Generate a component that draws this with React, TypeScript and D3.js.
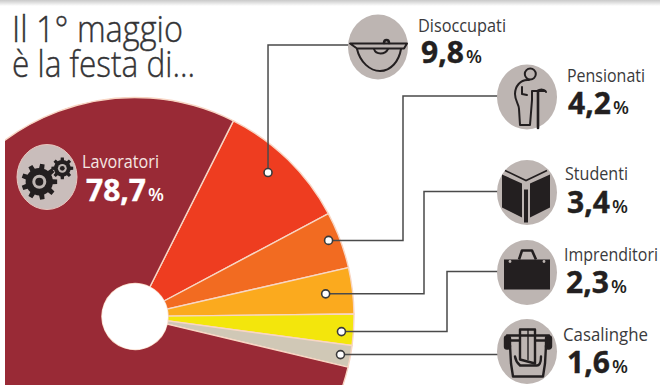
import React from "react";
import * as d3 from "d3";

// Survey shares, in the order the slices run clockwise
const categories = ["Disoccupati", "Pensionati", "Studenti", "Imprenditori", "Casalinghe", "Lavoratori"];
const shares = [9.8, 4.2, 3.4, 2.3, 1.6, 78.7];
const sliceColors = ["#ee3d20", "#f26b21", "#fbaa1e", "#f3e60c", "#d0c8b6", "#992a36"];
const titleLines = ["Il 1° maggio", "è la festa di..."];

const WIDTH = 660;
const HEIGHT = 385;
const CX = 135;
const CY = 316.5;
const OUTER = 219;
const INNER = 33;
const START_DEG = 26.7;

// Placement of the callout blocks, one per category
const iconX = [378, 527, 527, 527, 527, 47];
const iconY = [47, 97, 192.5, 272.5, 351.5, 177];
const nameX = [418, 567, 565, 564, 563, 82];
const nameY = [32, 82, 180, 261, 341, 168];
const nameW = [88, 78, 63, 94, 85, 77];
const valueX = [421, 568, 567, 566, 567, 86];
const valueY = [63, 114, 213, 293, 373, 201];

// Dot anchors inside each slice: distance from the centre and nudge off the mid-angle
const dotRadius = [196, 208, 192, 207, 209];
const dotNudge = [-1.6, -1, 0, 0.7, 0];
// Elbow column of each leader; null means the leader runs straight or upward only
const elbowX = [null, 403, 424, 447, null];

const INK = "#231f20";
const DISC = "#bdb5b2";

const pie = d3
  .pie<number>()
  .sort(null)
  .startAngle((START_DEG * Math.PI) / 180)
  .endAngle((START_DEG * Math.PI) / 180 + 2 * Math.PI);
const arcs = pie(shares);
const arcPath = d3.arc<d3.PieArcDatum<number>>().innerRadius(INNER).outerRadius(OUTER);

const polar = (deg: number, r: number): [number, number] => [
  CX + r * Math.sin((deg * Math.PI) / 180),
  CY - r * Math.cos((deg * Math.PI) / 180),
];

const dots = arcs.slice(0, 5).map((a, i) => {
  const mid = (((a.startAngle + a.endAngle) / 2) * 180) / Math.PI;
  return polar(mid + dotNudge[i], dotRadius[i]);
});

const leaderPath = d3.line();
const leaders = dots.map(([x, y], i) => {
  const tx = iconX[i];
  const ty = iconY[i];
  if (i === 0) return leaderPath([[x, y], [x, ty - 2], [tx, ty - 2]]);
  const ex = elbowX[i];
  if (ex === null) return leaderPath([[x, y], [tx, y]]);
  return leaderPath([[x, y], [ex, y], [ex, ty - 1], [tx, ty - 1]]);
});

const formatShare = (v: number) => d3.format(".1f")(v).replace(".", ",");

// Toothed wheel outline for the Lavoratori badge
function gearPath(cx: number, cy: number, r: number, teeth: number) {
  const pts: [number, number][] = [];
  const step = (Math.PI * 2) / teeth;
  for (let t = 0; t < teeth; t++) {
    const a = t * step;
    const ro = r;
    const ri = r * 0.76;
    [
      [-0.5, ri],
      [-0.27, ri],
      [-0.18, ro],
      [0.18, ro],
      [0.27, ri],
    ].forEach(([f, rad]) => {
      const ang = a + f * step;
      pts.push([cx + rad * Math.cos(ang), cy + rad * Math.sin(ang)]);
    });
  }
  return d3.line()(pts) + "Z";
}

const Gears = () => (
  <g>
    <path d={gearPath(-7.7, 4.7, 18, 9)} fill={INK} />
    <circle cx={-7.7} cy={4.7} r={7} fill={DISC} />
    <circle cx={-7.7} cy={4.7} r={4} fill={INK} />
    <path d={gearPath(15.3, -8.7, 11, 8)} fill={INK} />
    <circle cx={15.3} cy={-8.7} r={4.4} fill={DISC} />
    <circle cx={15.3} cy={-8.7} r={2.4} fill={INK} />
  </g>
);

const Helmet = () => (
  <g fill="none" stroke={INK} strokeWidth={2} strokeLinejoin="round" strokeLinecap="round">
    <path d="M-28,-3.5 H29 L26,1.5 H-21 Z" />
    <path d="M-21,2 C-18,15 -8,24 2,24 C13,24 21,14 23,2" />
    <path d="M-4,2 C-2,8 7,8 10,2" />
    <path d="M6,-4 C6,-8 11,-8 11,-4" strokeWidth={2.5} />
  </g>
);

const Elder = () => (
  <g fill="none" stroke={INK} strokeWidth={2} strokeLinejoin="round" strokeLinecap="round">
    <circle cx={3.3} cy={-23} r={5.5} />
    <path d="M2,-17 C-7,-18 -12,-10 -12,-3 C-12,4 -8,7 -8,12 L-7,28 H3 L5,3 V-6 H18 M-5,-10 V-3 L0,-2" />
    <path d="M10,-6 C13,-8 18,-8 19,-5" strokeWidth={2} />
    <path d="M11,-6 V31" strokeWidth={2.6} />
  </g>
);

const Book = () => (
  <g>
    <path d="M-25,-18 L-5,-9 V25 L-25,15 Z" fill={INK} />
    <path d="M23,-18 L3,-9 V25 L23,15 Z" fill={INK} />
    <path d="M-1,-3 V30" stroke={INK} strokeWidth={4} />
    <path d="M-22,-22 L-1,-12 L20,-22" fill="none" stroke={INK} strokeWidth={1.6} />
  </g>
);

const Briefcase = () => (
  <g>
    <path d="M-8,-13 L-5,-22 H5 L9,-13" fill="none" stroke={INK} strokeWidth={2.6} strokeLinejoin="round" />
    <rect x={-23} y={-13} width={46} height={30} fill={INK} />
    <circle cx={-17} cy={-11} r={1.4} fill={DISC} />
    <circle cx={17} cy={-11} r={1.4} fill={DISC} />
  </g>
);

const Apron = () => (
  <g fill="none" stroke={INK} strokeWidth={2.4} strokeLinejoin="round" strokeLinecap="round">
    <path d="M-20,-16 H22 M-20,-11 H-8 M9,-11 H22" />
    <rect x={-22} y={-15} width={5} height={12} rx={2} fill={INK} />
    <rect x={19} y={-15} width={5} height={12} rx={2} fill={INK} />
    <path d="M-17,-6 L-16,12 L-14,25 H16 L18,12 L19,-6" />
    <path d="M-12,5 C-11,12 -6,14 -7,14 H10 M14,5 C14,12 12,14 10,14" />
    <path d="M-7,-22 H8 V12 L-7,8 Z" />
    <path d="M1,-22 V8" strokeWidth={1.4} />
  </g>
);

const icons = [Helmet, Elder, Book, Briefcase, Apron, Gears];

export default function App() {
  return (
    <svg
      width={WIDTH}
      height={HEIGHT}
      viewBox={`0 0 ${WIDTH} ${HEIGHT}`}
      style={{ position: "absolute", left: 0, top: 0, background: "#fff" }}
    >
      <defs>
        <linearGradient id="edge" x1="0" y1="0" x2="0" y2="1">
          <stop offset="0" stopColor="#c9c9c9" />
          <stop offset="0.55" stopColor="#e6e6e6" />
          <stop offset="1" stopColor="#fff" />
        </linearGradient>
        <clipPath id="pieClip">
          <rect x={5} y={0} width={WIDTH} height={HEIGHT} />
        </clipPath>
      </defs>
      <rect x={0} y={0} width={WIDTH} height={6} fill="url(#edge)" />

      <g fontFamily="'Open Sans', sans-serif" fontWeight={300} fontSize={37} fill="#333335" stroke="#333335" strokeWidth={0.4}>
        <text x={12} y={42} textLength={171} lengthAdjust="spacingAndGlyphs">
          {titleLines[0]}
        </text>
        <text x={12} y={77} textLength={183} lengthAdjust="spacingAndGlyphs">
          {titleLines[1]}
        </text>
      </g>

      <g clipPath="url(#pieClip)">
        <g transform={`translate(${CX},${CY})`}>
          {arcs.map((a, i) => (
            <path key={categories[i]} d={arcPath(a) ?? ""} fill={sliceColors[i]} stroke="#f8d6c4" strokeWidth={1.4} />
          ))}
        </g>
      </g>
      <circle cx={CX} cy={CY} r={INNER} fill="#fff" />

      {leaders.map((d, i) => (
        <path key={i} d={d ?? ""} fill="none" stroke="#4a4a4a" strokeWidth={1.5} />
      ))}
      {dots.map(([x, y], i) => (
        <circle key={i} cx={x} cy={y} r={4} fill="#fff" stroke="#3a3a3a" strokeWidth={1.6} />
      ))}

      {categories.map((name, i) => {
        const Icon = icons[i];
        const onDark = name === "Lavoratori";
        const lead = onDark ? "#fff" : INK;
        return (
          <g key={name}>
            <g transform={`translate(${iconX[i]},${iconY[i]})`}>
              <ellipse rx={30} ry={32.5} fill={onDark ? "#c9bdbb" : DISC} stroke={onDark ? "#e9c4bd" : "none"} />
              <Icon />
            </g>
            <text
              x={nameX[i]}
              y={nameY[i]}
              fontFamily="'Open Sans', sans-serif"
              fontSize={18}
              fill={onDark ? "#f5e6e2" : "#3a3a3c"}
              textLength={nameW[i]}
              lengthAdjust="spacingAndGlyphs"
            >
              {name}
            </text>
            <text
              x={valueX[i]}
              y={valueY[i]}
              fontFamily="'Open Sans', sans-serif"
              fontWeight={700}
              fontSize={30}
              fill={lead}
              stroke={lead}
              strokeWidth={0.4}
            >
              {formatShare(shares[i])}
              <tspan dx={2} fontSize={18.5} fontWeight={600} strokeWidth={0}>%</tspan>
            </text>
          </g>
        );
      })}
    </svg>
  );
}
